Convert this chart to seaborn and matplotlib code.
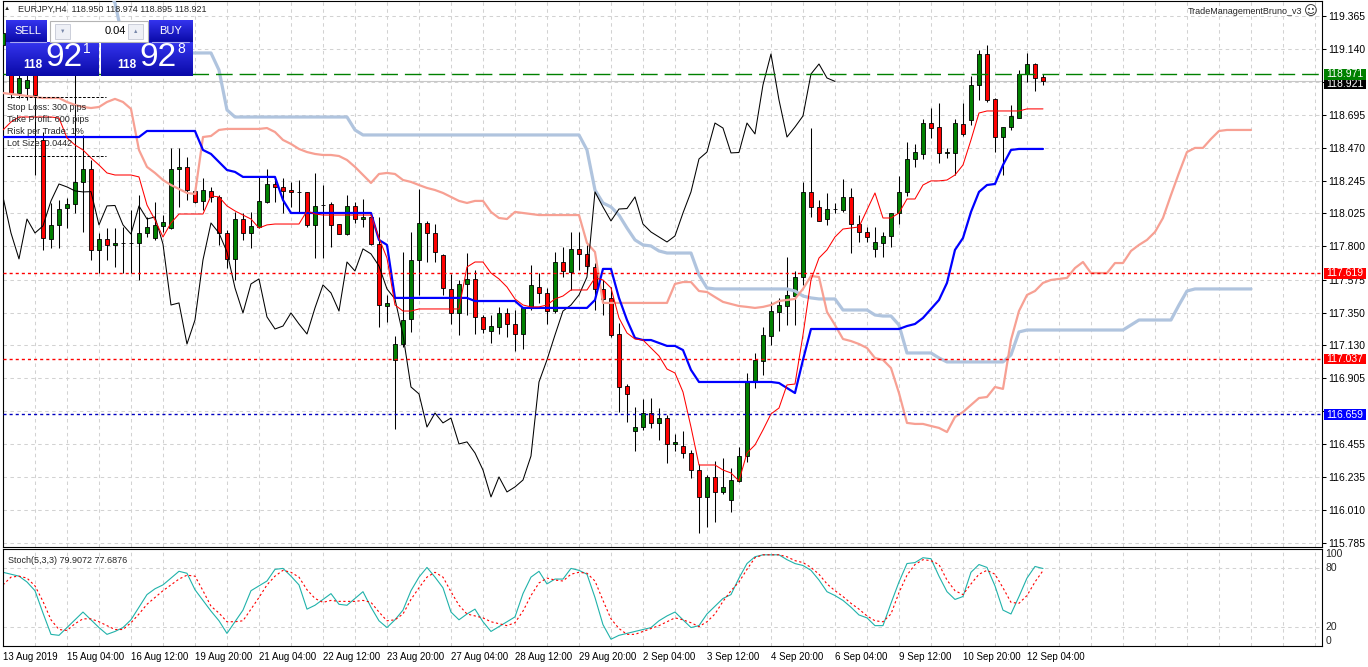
import numpy as np
import matplotlib
matplotlib.use("Agg")
import matplotlib.pyplot as plt
import matplotlib.transforms as mtransforms
from matplotlib.patches import Rectangle
from matplotlib.colors import LinearSegmentedColormap
import seaborn as sns

sns.set_style("white")
plt.rcParams['font.family'] = ['Liberation Sans', 'DejaVu Sans']
plt.rcParams['lines.scale_dashes'] = False

#----------------------------------------
# EURJPY H4 candles, 13 Aug 2019 00:00 -> 12 Sep 2019 08:00 (131 bars)
opens = [
    119.168, 119.053, 118.842, 118.876, 118.998, 118.523, 117.851, 117.946, 118.061, 118.088,
    118.238, 118.326, 117.776, 117.851, 117.810, 117.823, 117.823, 117.823, 117.891, 117.857,
    117.939, 117.925, 118.326, 118.340, 118.177, 118.109, 118.177, 118.136, 117.891, 117.715,
    117.986, 117.891, 117.932, 118.102, 118.224, 118.204, 118.183, 118.170, 118.170, 117.946,
    118.081, 118.088, 117.952, 117.884, 118.075, 117.986, 118.000, 117.816, 117.395, 117.029,
    117.137, 117.307, 117.708, 117.959, 117.891, 117.742, 117.511, 117.348, 117.545, 117.579,
    117.321, 117.225, 117.253, 117.348, 117.273, 117.205, 117.382, 117.524, 117.484, 117.361,
    117.694, 117.626, 117.783, 117.749, 117.660, 117.511, 117.450, 117.205, 116.852, 116.546,
    116.573, 116.668, 116.601, 116.634, 116.458, 116.444, 116.397, 116.281, 116.098, 116.234,
    116.132, 116.078, 116.207, 116.376, 116.879, 117.022, 117.192, 117.355, 117.395, 117.463,
    117.592, 118.170, 118.068, 117.986, 118.054, 118.048, 118.136, 117.952, 117.898, 117.783,
    117.823, 117.871, 118.027, 118.170, 118.394, 118.428, 118.638, 118.611, 118.435, 118.435,
    118.632, 118.659, 118.897, 119.107, 118.802, 118.543, 118.611, 118.672, 118.971, 119.039,
    118.950]
highs = [
    119.284, 119.100, 118.998, 118.985, 119.053, 118.577, 118.095, 118.115, 118.129, 118.965,
    118.557, 118.387, 117.891, 117.925, 117.925, 117.932, 118.048, 118.149, 118.000, 118.102,
    118.013, 118.469, 118.469, 118.408, 118.204, 118.265, 118.204, 118.149, 117.912, 118.034,
    118.027, 118.034, 118.272, 118.326, 118.272, 118.265, 118.238, 118.251, 118.172, 118.299,
    118.217, 118.102, 117.955, 118.149, 118.102, 118.122, 118.013, 118.000, 117.470, 117.192,
    117.762, 117.898, 118.190, 117.973, 117.952, 117.745, 117.613, 117.572, 117.755, 117.640,
    117.334, 117.334, 117.389, 117.382, 117.368, 117.389, 117.674, 117.619, 117.518, 117.762,
    117.796, 117.898, 117.898, 117.810, 117.687, 117.572, 117.524, 117.280, 116.865, 116.709,
    116.764, 116.770, 116.702, 116.655, 116.526, 116.546, 116.417, 116.322, 116.247, 116.342,
    116.363, 116.295, 116.438, 116.940, 117.076, 117.253, 117.423, 117.450, 117.728, 117.633,
    118.238, 118.604, 118.115, 118.163, 118.095, 118.258, 118.197, 118.013, 117.932, 117.932,
    117.898, 118.027, 118.278, 118.509, 118.496, 118.666, 118.740, 118.774, 118.469, 118.666,
    118.774, 118.958, 119.134, 119.168, 118.805, 118.611, 118.761, 118.998, 119.114, 119.046,
    118.974]
lows = [
    119.134, 118.808, 118.808, 118.795, 118.285, 117.776, 117.789, 117.789, 117.925, 118.027,
    117.898, 117.708, 117.619, 117.708, 117.660, 117.619, 117.619, 117.572, 117.864, 117.844,
    117.898, 117.918, 118.068, 118.115, 118.095, 118.048, 118.102, 117.810, 117.653, 117.572,
    117.844, 117.789, 117.925, 118.095, 118.102, 118.027, 118.068, 118.034, 117.932, 117.721,
    117.721, 117.796, 117.884, 117.878, 117.959, 117.932, 117.810, 117.253, 117.287, 116.560,
    117.117, 117.219, 117.470, 117.694, 117.694, 117.470, 117.273, 117.198, 117.334, 117.205,
    117.212, 117.144, 117.205, 117.185, 117.090, 117.103, 117.368, 117.416, 117.273, 117.348,
    117.592, 117.504, 117.640, 117.626, 117.368, 117.334, 117.185, 116.675, 116.607, 116.410,
    116.553, 116.567, 116.485, 116.329, 116.410, 116.363, 116.227, 115.853, 115.894, 115.928,
    116.118, 115.996, 116.200, 116.336, 116.838, 116.927, 117.130, 117.225, 117.266, 117.266,
    117.538, 118.000, 117.973, 117.946, 118.027, 118.034, 117.755, 117.830, 117.830, 117.728,
    117.728, 117.796, 117.952, 118.143, 118.340, 118.394, 118.537, 118.367, 118.401, 118.285,
    118.550, 118.625, 118.795, 118.781, 118.441, 118.285, 118.591, 118.672, 118.917, 118.856,
    118.895]
closes = [
    119.250, 118.842, 118.944, 118.931, 118.829, 117.857, 117.946, 118.054, 118.088, 118.238,
    118.326, 117.776, 117.851, 117.810, 117.823, 117.823, 117.826, 117.891, 117.932, 117.946,
    117.966, 118.326, 118.340, 118.183, 118.102, 118.183, 118.136, 117.891, 117.715, 117.986,
    117.891, 117.939, 118.109, 118.224, 118.204, 118.177, 118.170, 118.172, 117.946, 118.075,
    118.078, 117.946, 117.884, 118.075, 117.986, 118.000, 117.816, 117.402, 117.416, 117.137,
    117.300, 117.708, 117.959, 117.891, 117.762, 117.518, 117.348, 117.545, 117.579, 117.321,
    117.239, 117.259, 117.348, 117.273, 117.205, 117.382, 117.538, 117.484, 117.361, 117.694,
    117.633, 117.783, 117.749, 117.667, 117.511, 117.443, 117.198, 116.845, 116.798, 116.573,
    116.668, 116.601, 116.634, 116.458, 116.472, 116.397, 116.281, 116.098, 116.234, 116.132,
    116.166, 116.213, 116.376, 116.879, 117.029, 117.198, 117.361, 117.402, 117.470, 117.592,
    118.170, 118.068, 117.973, 118.054, 118.057, 118.136, 117.952, 117.898, 117.864, 117.830,
    117.871, 118.027, 118.170, 118.394, 118.441, 118.638, 118.604, 118.435, 118.438, 118.638,
    118.564, 118.897, 119.107, 118.795, 118.543, 118.611, 118.686, 118.971, 119.039, 118.944,
    118.921]

# Ichimoku lines
tenkan = [
    118.591, 118.645, 118.679, 118.679, 118.679, 118.679, 118.679, 118.672, 118.537, 118.489,
    118.455, 118.401, 118.353, 118.299, 118.285, 118.285, 118.285, 118.272, 118.081, 117.980,
    117.864, 117.959, 118.020, 118.020, 118.020, 118.020, 118.143, 118.136, 118.075, 118.041,
    118.013, 117.986, 117.925, 117.946, 117.952, 117.952, 117.952, 117.952, 118.041, 118.020,
    118.013, 118.013, 118.013, 118.013, 118.013, 118.013, 118.013, 117.857, 117.721, 117.402,
    117.361, 117.361, 117.375, 117.375, 117.375, 117.375, 117.375, 117.375, 117.660, 117.694,
    117.694, 117.619, 117.579, 117.524, 117.443, 117.402, 117.389, 117.389, 117.402, 117.443,
    117.463, 117.504, 117.504, 117.504, 117.586, 117.572, 117.518, 117.314, 117.212, 117.171,
    117.164, 117.110, 117.056, 116.967, 116.940, 116.811, 116.573, 116.315, 116.315, 116.315,
    116.281, 116.261, 116.207, 116.397, 116.451, 116.553, 116.662, 116.702, 116.859, 116.865,
    117.198, 117.572, 117.721, 117.776, 117.864, 117.918, 117.925, 117.932, 118.048, 118.163,
    117.993, 117.993, 118.027, 118.122, 118.122, 118.217, 118.245, 118.245, 118.251, 118.285,
    118.353, 118.523, 118.706, 118.720, 118.720, 118.720, 118.720, 118.720, 118.734, 118.734,
    118.734]
kijun = [
    118.543, 118.543, 118.543, 118.543, 118.543, 118.543, 118.543, 118.543, 118.543, 118.543,
    118.543, 118.543, 118.543, 118.543, 118.543, 118.543, 118.543, 118.543, 118.584, 118.584,
    118.584, 118.584, 118.584, 118.584, 118.584, 118.455, 118.428, 118.374, 118.319, 118.306,
    118.272, 118.272, 118.272, 118.272, 118.272, 118.115, 118.027, 118.027, 118.027, 118.027,
    118.027, 118.027, 118.027, 118.027, 118.027, 118.027, 118.027, 117.844, 117.810, 117.450,
    117.450, 117.450, 117.450, 117.450, 117.450, 117.450, 117.450, 117.450, 117.450, 117.429,
    117.429, 117.429, 117.429, 117.429, 117.429, 117.382, 117.382, 117.382, 117.382, 117.382,
    117.382, 117.382, 117.382, 117.382, 117.436, 117.647, 117.647, 117.450, 117.300, 117.178,
    117.164, 117.164, 117.144, 117.124, 117.124, 117.096, 116.961, 116.879, 116.879, 116.879,
    116.879, 116.879, 116.879, 116.879, 116.879, 116.879, 116.879, 116.872, 116.838, 116.804,
    117.029, 117.239, 117.239, 117.239, 117.239, 117.239, 117.239, 117.239, 117.239, 117.239,
    117.239, 117.239, 117.239, 117.259, 117.273, 117.314, 117.375, 117.436, 117.552, 117.776,
    117.857, 118.034, 118.170, 118.217, 118.224, 118.353, 118.455, 118.462, 118.462, 118.462,
    118.462]
# senkou spans run 26 bars past the last candle (157 values)
span_a = [
    118.842, 118.835, 118.829, 118.822, 118.815, 118.808, 118.808, 118.808, 118.781, 118.761,
    118.747, 118.740, 118.747, 118.781, 118.802, 118.781, 118.734, 118.455, 118.340, 118.299,
    118.251, 118.217, 118.190, 118.163, 118.156, 118.543, 118.550, 118.591, 118.598, 118.598,
    118.598, 118.598, 118.598, 118.604, 118.577, 118.523, 118.496, 118.462, 118.441, 118.428,
    118.421, 118.421, 118.414, 118.387, 118.340, 118.285, 118.231, 118.292, 118.299, 118.292,
    118.251, 118.238, 118.217, 118.197, 118.183, 118.163, 118.136, 118.109, 118.095, 118.109,
    118.109, 118.034, 117.993, 117.986, 118.034, 118.027, 118.020, 118.013, 118.013, 118.013,
    118.013, 118.013, 118.013, 117.823, 117.762, 117.416, 117.416, 117.416, 117.416, 117.416,
    117.416, 117.416, 117.416, 117.416, 117.545, 117.558, 117.558, 117.497, 117.490, 117.456,
    117.423, 117.409, 117.395, 117.389, 117.382, 117.389, 117.402, 117.429, 117.436, 117.443,
    117.511, 117.599, 117.592, 117.355, 117.266, 117.171, 117.157, 117.137, 117.110, 117.042,
    117.029, 116.974, 116.804, 116.601, 116.594, 116.594, 116.580, 116.567, 116.539, 116.641,
    116.675, 116.723, 116.770, 116.777, 116.845, 116.832, 117.164, 117.361, 117.470, 117.497,
    117.552, 117.572, 117.579, 117.586, 117.653, 117.694, 117.619, 117.619, 117.619, 117.687,
    117.687, 117.769, 117.810, 117.844, 117.898, 117.993, 118.149, 118.299, 118.441, 118.469,
    118.469, 118.530, 118.584, 118.591, 118.591, 118.591, 118.591]
span_b = [
    119.550, 119.550, 119.550, 119.550, 119.550, 119.550, 119.550, 119.550, 119.550, 119.550,
    119.550, 119.550, 119.550, 119.550, 119.454, 119.202, 119.114, 119.114, 119.114, 119.114,
    119.114, 119.114, 119.114, 119.114, 119.114, 119.114, 119.114, 118.998, 118.727, 118.679,
    118.679, 118.679, 118.679, 118.679, 118.679, 118.679, 118.679, 118.679, 118.679, 118.679,
    118.679, 118.679, 118.679, 118.679, 118.591, 118.557, 118.557, 118.557, 118.557, 118.557,
    118.557, 118.557, 118.557, 118.557, 118.557, 118.557, 118.557, 118.557, 118.557, 118.557,
    118.557, 118.557, 118.557, 118.557, 118.557, 118.557, 118.557, 118.557, 118.557, 118.557,
    118.557, 118.557, 118.557, 118.455, 118.183, 118.095, 118.068, 118.013, 117.925, 117.844,
    117.810, 117.803, 117.769, 117.755, 117.755, 117.755, 117.755, 117.606, 117.518, 117.511,
    117.511, 117.511, 117.511, 117.511, 117.511, 117.511, 117.511, 117.511, 117.511, 117.497,
    117.463, 117.450, 117.443, 117.443, 117.443, 117.368, 117.368, 117.368, 117.368, 117.334,
    117.327, 117.327, 117.266, 117.076, 117.076, 117.076, 117.076, 117.042, 117.015, 117.015,
    117.015, 117.015, 117.015, 117.015, 117.015, 117.015, 117.063, 117.219, 117.232, 117.232,
    117.232, 117.232, 117.232, 117.232, 117.232, 117.232, 117.232, 117.232, 117.232, 117.232,
    117.232, 117.266, 117.300, 117.300, 117.300, 117.300, 117.300, 117.402, 117.497, 117.511,
    117.511, 117.511, 117.511, 117.511, 117.511, 117.511, 117.511]
chikou_shift = 26

# Stochastic(5,3,3)
stoch_k = [
    76, 74, 72, 66, 57, 34, 12, 11, 19, 27,
    35, 27, 19, 12, 15, 19, 27, 40, 53, 59,
    63, 70, 77, 75, 58, 47, 36, 26, 13, 25,
    37, 57, 62, 67, 79, 80, 72, 63, 38, 42,
    48, 54, 43, 42, 49, 56, 40, 26, 19, 27,
    37, 57, 71, 81, 71, 60, 35, 27, 33, 38,
    25, 15, 20, 25, 30, 54, 71, 77, 64, 69,
    69, 80, 78, 74, 50, 22, 7, 11, 13, 15,
    17, 19, 26, 31, 35, 27, 19, 21, 33, 41,
    49, 53, 70, 85, 92, 94, 94, 94, 89, 85,
    83, 78, 68, 56, 52, 47, 40, 32, 29, 21,
    21, 44, 66, 85, 86, 91, 90, 72, 56, 48,
    51, 76, 84, 81, 62, 37, 33, 51, 70, 82,
    79.9072]
stoch_d = [
    63, 71, 72, 70, 62, 46, 27, 17, 16, 23,
    28, 28, 25, 21, 17, 17, 24, 33, 43, 50,
    57, 63, 69, 73, 72, 57, 41, 34, 25, 25,
    26, 38, 50, 63, 72, 78, 76, 71, 58, 49,
    45, 47, 46, 46, 46, 47, 45, 35, 26, 27,
    33, 48, 60, 71, 76, 71, 56, 42, 33, 31,
    29, 25, 23, 21, 24, 36, 52, 65, 70, 68,
    67, 74, 76, 75, 67, 47, 28, 18, 12, 12,
    15, 18, 21, 25, 29, 27, 24, 20, 25, 33,
    46, 57, 66, 79, 91, 94, 94, 94, 92, 88,
    86, 81, 74, 64, 57, 51, 44, 38, 31, 26,
    25, 33, 55, 73, 84, 89, 88, 84, 68, 57,
    53, 64, 74, 78, 74, 60, 45, 44, 52, 66,
    77.6876]

# axis labels
price_ticks = [119.365, 119.140, 118.915, 118.695, 118.470, 118.245, 118.025, 117.800, 117.575,
               117.350, 117.130, 116.905, 116.680, 116.455, 116.235, 116.010, 115.785]
price_labels = ['119.365', '119.140', '', '118.695', '118.470', '118.245', '118.025', '117.800', '117.575',
                '117.350', '117.130', '116.905', '', '116.455', '116.235', '116.010', '115.785']
date_bars = [0, 8, 16, 24, 32, 40, 48, 56, 64, 72, 80, 88, 96, 104, 112, 120, 128]
date_labels = ['13 Aug 2019', '15 Aug 04:00', '16 Aug 12:00', '19 Aug 20:00', '21 Aug 04:00',
               '22 Aug 12:00', '23 Aug 20:00', '27 Aug 04:00', '28 Aug 12:00', '29 Aug 20:00',
               '2 Sep 04:00', '3 Sep 12:00', '4 Sep 20:00', '6 Sep 04:00', '9 Sep 12:00',
               '10 Sep 20:00', '12 Sep 04:00']

# horizontal levels
bid = 118.921
levels = [118.971, 117.619, 117.037, 116.659]
level_line_colors = ['#008000', '#ff0000', '#ff0000', '#0000c0']
level_box_colors = ['#008000', '#ff0000', '#ff0000', '#0000ff']
level_dashes = [(0, (12, 5)), (0, (2.2, 2.2)), (0, (2.2, 2.2)), (0, (2.2, 2.2))]

#----------------------------------------
W, H = 1368, 667
fig = plt.figure(figsize=(W / 100, H / 100), dpi=100)
fig.patch.set_facecolor('white')
ax = fig.add_axes([2.5 / W, (H - 547) / H, 1319.5 / W, 546 / H])
ax2 = fig.add_axes([2.5 / W, (H - 646) / H, 1319.5 / W, 97 / H])

xmin = -0.06
xmax = xmin + 1319.5 / 8   # 8 px per bar

n = len(closes)
bars = np.arange(n)
proj = np.arange(len(span_a))

grid_kw = dict(color='#d2d2d2', lw=0.75, ls=(0, (2.5, 2.5)), zorder=0)
for a in (ax, ax2):
    for gx in range(0, 165, 4):
        a.axvline(gx, **grid_kw)
for p in price_ticks:
    ax.axhline(p, **grid_kw)
for s in (20, 80):
    ax2.axhline(s, **grid_kw)

# candles
o = np.array(opens); c = np.array(closes)
body_col = ['#008000' if cc >= oo else '#ff0000' for oo, cc in zip(o, c)]
ax.vlines(bars, lows, highs, color='black', lw=0.75, zorder=2)
ax.bar(bars, c - o, bottom=o, width=0.62, color=body_col, edgecolor='black', linewidth=0.6, zorder=3)

# ichimoku
line_kw = dict(ax=ax, estimator=None, sort=False, legend=False)
sns.lineplot(x=proj, y=span_b, color='#b0c4de', lw=2.3, zorder=4, **line_kw)
sns.lineplot(x=proj, y=span_a, color='#f7a093', lw=1.6, zorder=4, **line_kw)
sns.lineplot(x=bars[:n - chikou_shift], y=closes[chikou_shift:], color='black', lw=0.75, zorder=5, **line_kw)
sns.lineplot(x=bars, y=kijun, color='#0000ff', lw=1.6, zorder=5, **line_kw)
sns.lineplot(x=bars, y=tenkan, color='#ff0000', lw=0.75, zorder=6, **line_kw)

# levels
ax.axhline(bid, color='#c8c8c8', lw=0.8, zorder=1)
for p, lc, ls in zip(levels, level_line_colors, level_dashes):
    ax.axhline(p, color=lc, lw=1.0, ls=ls, zorder=7)

ax.set_xlim(xmin, xmax)
ax.set_ylim(115.758, 119.467)
ax.set_xlabel(''); ax.set_ylabel('')
ax.set_xticks([])
ax.yaxis.tick_right()
ax.set_yticks(price_ticks)
ax.set_yticklabels(price_labels)
ax.tick_params(axis='y', direction='out', length=3, width=0.75, pad=1.5, labelsize=7.5, colors='black')

# stochastic
sns.lineplot(x=bars, y=stoch_k, ax=ax2, color='#20b2aa', lw=0.8, estimator=None, sort=False, legend=False)
sns.lineplot(x=bars, y=stoch_d, ax=ax2, color='#ff0000', lw=0.8, ls=(0, (1.6, 1.8)),
             estimator=None, sort=False, legend=False)
ax2.set_xlim(xmin, xmax)
ax2.set_ylim(0, 100)
ax2.set_xlabel(''); ax2.set_ylabel('')
ax2.set_yticks([])
ax2.set_xticks(date_bars)
ax2.set_xticklabels(date_labels, ha='left')
ax2.tick_params(axis='x', direction='out', length=3, width=0.75, pad=1.5, labelsize=7, colors='black')
strans = mtransforms.blended_transform_factory(ax2.transAxes, ax2.transData)
for v, va in [(100, 'top'), (80, 'center'), (20, 'center'), (0, 'bottom')]:
    ax2.text(1 + 3.5 / 1319.5, v, str(v), transform=strans, ha='left', va=va, fontsize=7.5, clip_on=False)
ax2.text(5 / 1319.5, 88, 'Stoch(5,3,3) 79.9072 77.6876', transform=strans, ha='left', va='center', fontsize=6.5)

for a in (ax, ax2):
    for sp in a.spines.values():
        sp.set_visible(True)
        sp.set_color('black')
        sp.set_linewidth(0.8)

#----------------------------------------
# overlay in pixel coordinates: price labels, header, trade panel, EA info
ov = fig.add_axes([0, 0, 1, 1], zorder=10)
ov.set_xlim(0, W); ov.set_ylim(H, 0)
ov.axis('off')
ov.patch.set_visible(False)

def price_px(p):
    return H - ax.transData.transform((0, p))[1]

# price tags: the bid tag sits just below the green one, like the terminal does
tag_y = {p: price_px(p) for p in [bid] + levels}
tag_y[bid] = max(tag_y[bid], tag_y[levels[0]] + 9.5)
for k, (p, bc) in enumerate(zip([bid] + levels, ['black'] + level_box_colors)):
    py = tag_y[p]
    ov.add_patch(Rectangle((1323.5, py - 5), 42.5, 10.5, fc=bc, ec='none', zorder=5 + 0.1 * k))
    ov.text(1345, py + 0.3, f'{p:.3f}', fontsize=7.5, color='white', ha='center', va='center',
            zorder=5.05 + 0.1 * k)

ov.text(7, 9, '▲', fontsize=4.5, ha='center', va='center')
ov.text(18, 9, 'EURJPY,H4  118.950 118.974 118.895 118.921', fontsize=6.5, va='center')
ov.text(1302, 12, 'TradeManagementBruno_v3', fontsize=6.5, ha='right', va='center')
ov.text(1311, 12, '☺', fontsize=9.5, ha='center', va='center', family='DejaVu Sans')

grad = np.linspace(0, 1, 50).reshape(-1, 1)
blue_cmap = LinearSegmentedColormap.from_list('panel', ['#3434ee', '#0a0aa8'])
for x0, y0, x1, y1 in [(6, 20, 47, 42), (149, 20, 193, 42), (6, 42, 99, 76), (101, 42, 193, 76)]:
    ov.imshow(grad, extent=(x0, x1, y1, y0), cmap=blue_cmap, aspect='auto', zorder=1)
ov.set_xlim(0, W); ov.set_ylim(H, 0)
ov.add_patch(Rectangle((50, 21), 98, 21, fc='white', ec='#b4b4b4', lw=0.8, zorder=2))
for bx, arrow in [(55, '▼'), (128, '▲')]:
    ov.add_patch(Rectangle((bx, 24), 15, 15, fc='#eef0f6', ec='#c4c8d4', lw=0.6, zorder=3))
    ov.text(bx + 7.5, 31.5, arrow, fontsize=4, color='#7888aa', ha='center', va='center', zorder=4)
ov.plot([10, 46], [42, 42], color='#a8a8f0', lw=0.8, zorder=3)
ov.plot([152, 189], [42, 42], color='#a8a8f0', lw=0.8, zorder=3)
ov.text(28, 31, 'SELL', fontsize=8, color='white', ha='center', va='center', zorder=4)
ov.text(171, 31, 'BUY', fontsize=8, color='white', ha='center', va='center', zorder=4)
ov.text(126, 31.5, '0.04', fontsize=8, color='black', ha='right', va='center', zorder=4)
for bx, sup in [(0, '1'), (94, '8')]:
    ov.text(bx + 33, 65, '118', fontsize=8.5, fontweight='bold', color='white', ha='center', va='center', zorder=4)
    ov.text(bx + 64, 58, '92', fontsize=24, color='white', ha='center', va='center', zorder=4)
    ov.text(bx + 87, 49, sup, fontsize=10, color='white', ha='center', va='center', zorder=4)

ov.plot([7, 106], [97, 97], color='black', lw=0.7, ls=(0, (2, 1.2)), zorder=3)
ov.plot([7, 106], [156, 156], color='black', lw=0.7, ls=(0, (2, 1.2)), zorder=3)
for ty, txt in [(108, 'Stop Loss: 300 pips'), (120, 'Take Profit: 600 pips'),
                (132, 'Risk per Trade: 1%'), (144, 'Lot Size: 0.0442')]:
    ov.text(7, ty, txt, fontsize=6.5, va='center', zorder=4)

fig.savefig('out.png', dpi=100)
